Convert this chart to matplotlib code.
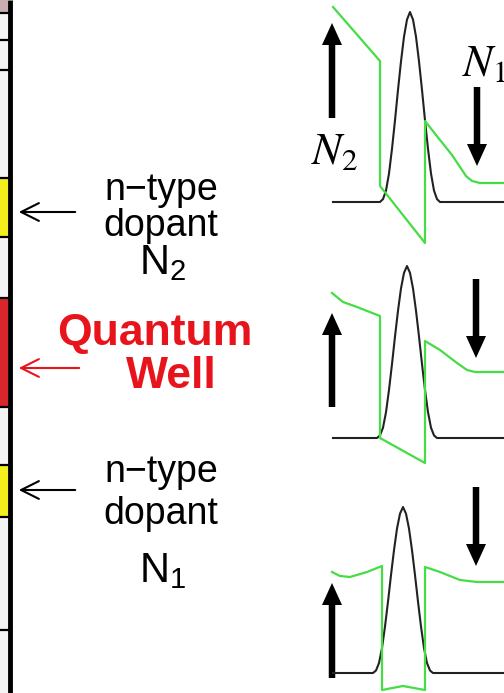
import matplotlib
matplotlib.use("Agg")
import matplotlib.pyplot as plt

plt.rcParams['font.family'] = ['Liberation Sans', 'DejaVu Sans']

# layer stack on the left edge (top -> bottom, pixel rows)
layer_edges = [0, 13, 40, 70, 178, 237, 298, 407, 465, 517, 630, 693]
layer_kind = ['cap', 'spacer', 'spacer', 'spacer', 'dopant', 'spacer',
              'well', 'spacer', 'dopant', 'spacer', 'spacer']
layer_colors = {'cap': '#c9aeb0', 'spacer': '#f4f4f4', 'dopant': '#f2ef1c', 'well': '#d8262b'}

# labels of the layers
label_lines = [['n\u2212type', 'dopant', '$\\mathregular{N_2}$'],
               ['n\u2212type', 'dopant', '$\\mathregular{N_1}$']]
label_line_y = [[190, 226, 263], [472, 514, 571]]
label_arrow_y = [212, 490]
well_text = ['Quantum', 'Well']
well_text_x = [155, 171]
well_text_y = [334, 377]
well_arrow_y = 368

# wavefunction profile (offset in px, relative amplitude)
psi_dx = [-30, -27, -24, -21, -18, -15, -12, -9, -6, -3, 0, 3, 6, 9, 12, 15, 18, 21, 24, 27, 30]
psi_rel = [0.0, 0.015, 0.06, 0.15, 0.28, 0.43, 0.59, 0.74, 0.87, 0.96, 1.0,
           0.96, 0.87, 0.74, 0.59, 0.43, 0.28, 0.15, 0.06, 0.015, 0.0]
psi_base = [202, 438, 673]
psi_center = [410, 407, 403]
psi_height = [190, 172, 166]
psi_x0 = 333
psi_x1 = 504

# conduction band edge for the three cases
band_x = [
    [333, 380, 380, 425, 425, 440, 452, 460, 466, 472, 480, 504],
    [332, 343, 357, 380, 380, 425, 425, 440, 457, 467, 475, 504],
    [332, 340, 350, 367, 382, 382, 403, 425, 425, 440, 460, 477, 504],
]
band_y = [
    [7, 61, 186, 243, 121, 140, 155, 167, 176, 181, 183, 183],
    [293, 302, 307, 316, 438, 463, 341, 350, 363, 370, 372, 372],
    [572, 576, 577, 572, 566, 690, 686, 690, 567, 572, 580, 582, 582],
]

# thick arrows: N2 side (up) and N1 side (down)
up_x = [332, 332, 332]
up_tail = [118, 407, 678]
up_tip = [23, 313, 583]
down_x = [477, 476, 476]
down_tail = [87, 279, 487]
down_tip = [166, 358, 566]

fig = plt.figure(figsize=(5.04, 6.93), dpi=100)
ax = fig.add_axes([0, 0, 1, 1])
ax.set_xlim(0, 504)
ax.set_ylim(693, 0)
ax.axis('off')

# layer stack
for i, kind in enumerate(layer_kind):
    ax.fill_between([0, 8], layer_edges[i], layer_edges[i + 1],
                    color=layer_colors[kind], lw=0)
for e in layer_edges[1:-1]:
    ax.plot([0, 8], [e, e], color='black', lw=1.6)
ax.plot([9.5, 9.5], [0, 693], color='black', lw=3.5, solid_capstyle='butt')

# dopant labels
for i in range(2):
    ax.annotate('', xy=(16, label_arrow_y[i]), xytext=(78, label_arrow_y[i]),
                arrowprops=dict(arrowstyle='->', lw=1.5, color='black',
                                mutation_scale=32))
    ax.text(161, label_line_y[i][0], label_lines[i][0], ha='center', va='center', fontsize=27)
    ax.text(161, label_line_y[i][1], label_lines[i][1], ha='center', va='center', fontsize=27)
    ax.text(163, label_line_y[i][2], label_lines[i][2], ha='center', va='center', fontsize=30)

# quantum well label
ax.annotate('', xy=(16, well_arrow_y), xytext=(82, well_arrow_y),
            arrowprops=dict(arrowstyle='->', lw=1.5, color='#e8141c',
                            mutation_scale=32))
for i in range(2):
    ax.text(well_text_x[i], well_text_y[i], well_text[i], ha='center', va='center',
            fontsize=32, fontweight='bold', color='#e8141c')

# panels
for p in range(3):
    xs = [psi_x0] + [psi_center[p] + d for d in psi_dx] + [psi_x1]
    ys = [psi_base[p]] + [psi_base[p] - psi_height[p] * r for r in psi_rel] + [psi_base[p]]
    ax.plot(xs, ys, color='#222222', lw=1.5)
    ax.plot(band_x[p], band_y[p], color='#44dd44', lw=1.6)
    ax.arrow(up_x[p], up_tail[p], 0, up_tip[p] - up_tail[p], width=6.5,
             head_width=20, head_length=22, length_includes_head=True,
             fc='black', ec='none')
    ax.arrow(down_x[p], down_tail[p], 0, down_tip[p] - down_tail[p], width=6.5,
             head_width=20, head_length=22, length_includes_head=True,
             fc='black', ec='none')

ax.text(335, 152, '$N_2$', ha='center', va='center', fontsize=32, math_fontfamily='stix')
ax.text(484, 64, '$N_1$', ha='center', va='center', fontsize=32, math_fontfamily='stix')

fig.savefig('out.png', dpi=100)
